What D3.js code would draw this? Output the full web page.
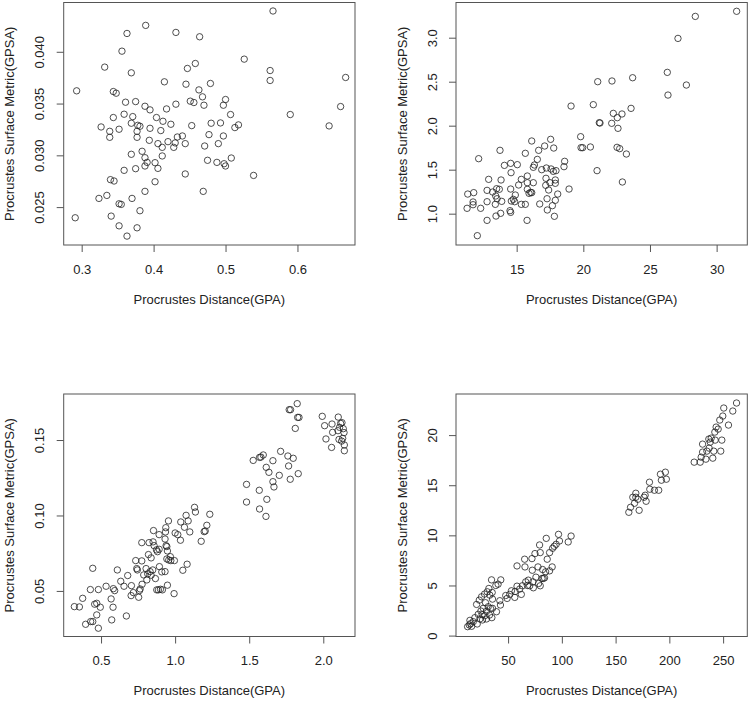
<!DOCTYPE html>
<html><head><meta charset="utf-8">
<script src="https://cdn.jsdelivr.net/npm/d3@7"></script>
<style>body{margin:0;background:#fff}svg{display:block}</style>
</head><body>
<svg id="chart" width="750" height="704"></svg>
<script>
// ---------- data ----------
const xTitle = "Procrustes Distance(GPA)";
const yTitle = "Procrustes Surface Metric(GPSA)";

// Panel 1 (top-left)
const p1x = [0.389,0.363,0.431,0.464,0.356,0.332,0.369,0.458,0.447,0.415,0.445,0.293,0.344,0.348,0.463,0.468,0.361,0.375,0.388,0.395,0.418,0.431,0.451,0.456,0.470,0.344,0.359,0.371,0.404,0.413,0.424,0.369,0.327,0.339,0.339,0.352,0.378,0.381,0.377,0.377,0.395,0.410,0.453,0.394,0.406,0.412,0.420,0.428,0.430,0.433,0.440,0.444,0.471,0.369,0.384,0.388,0.391,0.388,0.402,0.406,0.412,0.375,0.359,0.340,0.345,0.402,0.444,0.469,0.388,0.324,0.335,0.370,0.352,0.355,0.381,0.291,0.341,0.352,0.377,0.363,
  0.566,0.526,0.562,0.562,0.667,0.479,0.500,0.497,0.507,0.590,0.660,0.480,0.493,0.513,0.518,0.644,0.477,0.497,0.490,0.475,0.488,0.498,0.500,0.508,0.539];
const p1y = [0.04255,0.04177,0.04187,0.04145,0.04006,0.03852,0.03797,0.03887,0.03839,0.0371,0.03687,0.03623,0.03616,0.036,0.03632,0.03565,0.03513,0.03519,0.03474,0.03439,0.03448,0.03494,0.03523,0.0351,0.03484,0.03365,0.03397,0.03374,0.03365,0.03329,0.033,0.0331,0.03274,0.03232,0.03174,0.03252,0.0329,0.03281,0.03232,0.03174,0.03261,0.03239,0.03287,0.03145,0.03113,0.03077,0.03132,0.03077,0.0312,0.03177,0.03187,0.03113,0.0309,0.0301,0.03039,0.02977,0.02932,0.02897,0.02929,0.02874,0.02994,0.02871,0.02855,0.02765,0.02752,0.02745,0.0282,0.02652,0.02652,0.02584,0.02613,0.02584,0.02532,0.02526,0.02465,0.02397,0.02413,0.02319,0.023,0.0222,
  0.04394,0.03929,0.03819,0.03723,0.03752,0.03694,0.03539,0.03484,0.03394,0.03394,0.03471,0.0331,0.03313,0.03268,0.03294,0.03284,0.032,0.03187,0.03113,0.02952,0.02932,0.02919,0.02897,0.02974,0.02806];

// Panel 2 (top-right)
const p2x = [12.05,19.08,16.13,13.75,17.55,16.65,17.1,17.78,15.65,16.55,12.15,14.55,14.08,15.05,14.58,16.33,16.25,16.88,17.23,17.58,17.95,17.75,18.6,18.55,12.9,13.83,15.35,15.8,15.8,16.25,15.15,17.2,17.18,17.5,17.9,17.9,18.93,12.78,13.2,13.5,13.7,14.55,15.8,15.93,16.05,16.13,11.33,11.78,11.73,11.73,11.28,12.3,12.78,13.43,13.53,13.88,13.4,13.8,12.78,13.45,14.5,14.55,14.6,14.75,14.85,14.9,15.35,15.65,15.78,16.73,17.28,17.3,17.68,17.9,18.08,17.83,17.4,
  28.4,27.1,26.3,27.73,26.35,21.08,22.15,23.7,20.75,23.58,22.25,22.9,22.55,21.2,21.25,22.13,22.6,19.8,19.83,19.95,20.53,22.53,22.73,23.23,21.03,22.93,31.5];
const p2y = [0.75,2.223,1.826,1.72,1.845,1.72,1.769,1.746,1.686,1.617,1.625,1.572,1.549,1.557,1.466,1.553,1.527,1.5,1.519,1.508,1.489,1.481,1.595,1.534,1.39,1.383,1.39,1.428,1.352,1.352,1.326,1.402,1.322,1.352,1.383,1.345,1.28,1.265,1.246,1.284,1.277,1.28,1.277,1.231,1.242,1.239,1.223,1.239,1.133,1.102,1.061,1.061,1.136,1.201,1.17,1.14,1.106,1.004,0.924,0.973,1.034,1.015,1.144,1.163,1.136,1.212,1.106,1.106,0.924,1.11,1.17,1.042,1.091,1.152,1.223,0.97,1.269,
  3.242,2.992,2.606,2.462,2.348,2.5,2.508,2.545,2.239,2.197,2.14,2.133,2.091,2.034,2.03,2.027,1.97,1.875,1.75,1.75,1.758,1.754,1.739,1.678,1.489,1.36,3.30];

// Panel 3 (bottom-left)
const p3x = [0.32,0.354,0.376,0.396,0.43,0.444,0.482,0.471,0.457,0.471,0.495,0.444,0.428,0.482,0.534,0.568,0.581,0.572,0.583,0.592,0.61,0.633,0.655,0.68,0.671,0.705,0.703,0.718,0.734,0.741,0.745,0.754,0.759,0.764,0.775,0.775,0.777,0.788,0.804,0.809,0.815,0.82,0.831,0.838,0.838,0.849,0.824,0.851,0.854,0.858,0.867,0.874,0.881,0.892,0.892,0.894,0.876,0.887,0.901,0.914,0.91,0.932,0.935,0.937,0.932,0.939,0.944,0.948,0.955,0.944,0.957,0.968,0.971,0.948,0.995,0.993,1.0,1.018,1.036,1.038,1.052,1.063,1.074,1.088,1.081,1.099,1.131,1.137,1.176,1.196,
  1.234,1.214,1.203,1.482,1.482,1.527,1.57,1.579,1.595,1.568,1.57,1.613,1.619,1.615,1.633,1.66,1.66,1.667,1.703,1.712,1.761,1.766,1.777,1.797,1.831,1.77,1.779,1.824,1.827,1.836,1.811,1.993,2.009,2.018,2.056,2.059,2.063,2.101,2.099,2.106,2.117,2.126,2.135,2.14,2.124,2.142,2.142,2.11,2.131];
const p3y = [0.0396,0.0394,0.0451,0.0279,0.0297,0.0297,0.0253,0.0341,0.0412,0.0418,0.0392,0.065,0.0509,0.0509,0.0531,0.0447,0.0392,0.0308,0.0515,0.0502,0.0639,0.0564,0.0531,0.0602,0.0334,0.0535,0.0469,0.0489,0.0701,0.0648,0.0639,0.0458,0.0502,0.0513,0.082,0.0699,0.0544,0.0606,0.0648,0.0573,0.0613,0.0741,0.0628,0.0604,0.0719,0.0639,0.082,0.0825,0.09,0.08,0.0582,0.0772,0.076,0.0776,0.0873,0.0661,0.0507,0.0507,0.0511,0.0507,0.0626,0.0628,0.0891,0.0919,0.0844,0.08,0.0794,0.0765,0.0964,0.0712,0.0705,0.0727,0.0701,0.0538,0.0701,0.0482,0.0884,0.0873,0.0836,0.0957,0.0637,0.0922,0.1001,0.0964,0.0677,0.0891,0.1054,0.1023,0.0829,0.0893,
  0.1008,0.0935,0.0897,0.1206,0.1089,0.1365,0.1385,0.1387,0.1401,0.1167,0.1043,0.0994,0.1107,0.1319,0.1286,0.1363,0.1224,0.1189,0.1266,0.1425,0.1394,0.1328,0.124,0.1379,0.1277,0.1701,0.1701,0.1741,0.165,0.165,0.1577,0.1657,0.1595,0.1507,0.1451,0.1606,0.1551,0.1652,0.1562,0.1504,0.161,0.1615,0.1575,0.1549,0.1493,0.1467,0.1429,0.1584,0.1511];

// Panel 4 (bottom-right)
const p4x = [12.35,13.9,15.1,16.1,14.5,17.6,19.1,21.3,22.2,20.7,23.8,24.7,23.2,25.3,25.9,26.9,26.2,28.1,28.4,29.0,29.9,29.9,30.6,31.5,32.1,32.7,33.0,33.6,34.6,35.5,35.2,35.5,34.9,39.2,38.6,40.7,42.3,43.2,42.9,
  47.8,49.1,51.5,53.1,56.2,56.5,58.3,58.3,60.8,62.3,63.3,65.4,65.7,66.4,68.0,68.8,70.1,72.2,72.5,73.1,73.5,75.0,75.9,77.8,78.4,79.3,79.9,79.9,81.5,82.1,82.7,83.9,84.9,85.5,86.4,88.6,88.6,91.0,91.4,92.9,94.7,96.9,97.8,105.9,108.6,
  162.3,163.9,166,167.6,168.8,168.8,171.9,170.7,176.5,177.5,178.4,181.5,181.8,186.1,190.1,191.7,192.6,196.3,197.2,
  223.1,228.7,229.6,230.9,230.9,234.0,234.9,236.7,237.0,238.0,238.9,240.4,241.3,242.6,242.3,243.5,245.4,246.9,247.8,248.8,249.7,250.6,255,259,262.5];
const p4y = [0.89,1.06,1.19,0.93,1.52,1.39,1.79,1.16,2.12,3.11,1.66,2.45,3.54,3.87,2.09,2.72,1.56,4.14,1.99,3.28,2.42,1.66,4.37,2.88,4.70,2.05,4.04,2.72,5.56,3.64,4.30,2.72,1.79,2.38,5.0,5.13,3.48,5.56,3.05,
  4.0,3.71,4.11,4.47,3.81,4.40,6.95,4.93,4.64,4.11,4.97,7.62,6.85,5.36,5.0,5.53,4.97,7.68,6.52,5.36,4.77,8.18,5.83,6.85,5.20,9.04,8.28,4.97,5.70,6.59,5.70,5.76,6.36,9.70,7.62,8.28,6.46,6.85,8.71,8.91,9.11,10.1,9.44,9.34,9.93,
  12.3,12.8,13.8,13.2,14.2,13.8,12.5,13.6,13.8,14.0,13.4,15.3,14.6,14.5,14.5,16.1,15.5,16.3,15.6,
  17.3,17.3,17.8,19.1,18.3,17.6,18.4,19.6,18.7,19.3,19.7,17.7,18.4,19.5,20.3,20.8,20.6,21.5,18.4,19.5,21.9,22.7,21.0,22.4,23.2];

// axis limits and ticks
const p1xlim = [0.275, 0.68],  p1ylim = [0.02134, 0.04476];
const p2xlim = [10.45, 32.3],  p2ylim = [0.644, 3.40];
const p3xlim = [0.248, 2.214], p3ylim = [0.0198, 0.1805];
const p4xlim = [1.55, 272.5],  p4ylim = [-0.09, 24.1];
const p1xticks = [0.3,0.4,0.5,0.6],        p1xlabels = ["0.3","0.4","0.5","0.6"];
const p1yticks = [0.025,0.030,0.035,0.040],p1ylabels = ["0.025","0.030","0.035","0.040"];
const p2xticks = [15,20,25,30],            p2xlabels = ["15","20","25","30"];
const p2yticks = [1.0,1.5,2.0,2.5,3.0],    p2ylabels = ["1.0","1.5","2.0","2.5","3.0"];
const p3xticks = [0.5,1.0,1.5,2.0],        p3xlabels = ["0.5","1.0","1.5","2.0"];
const p3yticks = [0.05,0.10,0.15],         p3ylabels = ["0.05","0.10","0.15"];
const p4xticks = [50,100,150,200,250],     p4xlabels = ["50","100","150","200","250"];
const p4yticks = [0,5,10,15,20],           p4ylabels = ["0","5","10","15","20"];

// ---------- drawing ----------
const svg = d3.select("#chart");
const FONT = "'Liberation Sans', Arial, Helvetica, sans-serif";
const boxW = 291.3, boxH = 242.5;
const panels = [
  {x0:63.7, y0:2.5, xs:p1x, ys:p1y, xlim:p1xlim, ylim:p1ylim, xt:p1xticks, xl:p1xlabels, yt:p1yticks, yl:p1ylabels},
  {x0:456,  y0:2.5, xs:p2x, ys:p2y, xlim:p2xlim, ylim:p2ylim, xt:p2xticks, xl:p2xlabels, yt:p2yticks, yl:p2ylabels},
  {x0:63.7, y0:394, xs:p3x, ys:p3y, xlim:p3xlim, ylim:p3ylim, xt:p3xticks, xl:p3xlabels, yt:p3yticks, yl:p3ylabels},
  {x0:456,  y0:394, xs:p4x, ys:p4y, xlim:p4xlim, ylim:p4ylim, xt:p4xticks, xl:p4xlabels, yt:p4yticks, yl:p4ylabels}
];

panels.forEach(p => {
  const g = svg.append("g").attr("transform", `translate(${p.x0},${p.y0})`);
  const x = d3.scaleLinear().domain(p.xlim).range([0, boxW]);
  const y = d3.scaleLinear().domain(p.ylim).range([boxH, 0]);

  const xAxis = d3.axisBottom(x).tickValues(p.xt).tickFormat((d,i) => p.xl[i]).tickSize(7).tickPadding(4);
  const yAxis = d3.axisLeft(y).tickValues(p.yt).tickFormat((d,i) => p.yl[i]).tickSize(7).tickPadding(4);

  const gx = g.append("g").attr("transform", `translate(0,${boxH})`).call(xAxis);
  gx.select(".domain").remove();
  gx.selectAll("line").attr("stroke", "#555");
  gx.selectAll("text").attr("font-family", FONT).attr("font-size", 13).attr("fill", "#222")
    .attr("dy", null).attr("y", 24).attr("dominant-baseline", "central");

  const gy = g.append("g").call(yAxis);
  gy.select(".domain").remove();
  gy.selectAll("line").attr("stroke", "#555");
  gy.selectAll("text").attr("font-family", FONT).attr("font-size", 13).attr("fill", "#222")
    .attr("x", null).attr("dy", null).attr("text-anchor", "middle").attr("dominant-baseline", "central")
    .attr("transform", "translate(-24,0) rotate(-90)");

  // box
  g.append("rect").attr("x", 0).attr("y", 0).attr("width", boxW).attr("height", boxH)
    .attr("fill", "none").attr("stroke", "#555").attr("stroke-width", 1);

  // axis titles
  g.append("text").attr("x", boxW/2).attr("y", boxH + 54).attr("text-anchor", "middle")
    .attr("dominant-baseline", "central").attr("font-family", FONT).attr("font-size", 13).attr("fill", "#222")
    .text(xTitle);
  g.append("text").attr("transform", `translate(-54,${boxH/2}) rotate(-90)`).attr("text-anchor", "middle")
    .attr("dominant-baseline", "central").attr("font-family", FONT).attr("font-size", 13).attr("fill", "#222")
    .text(yTitle);

  // points
  g.append("g").selectAll("circle").data(p.xs.map((v,i) => [v, p.ys[i]])).join("circle")
    .attr("cx", d => x(d[0])).attr("cy", d => y(d[1])).attr("r", 3.2)
    .attr("fill", "none").attr("stroke", "#222").attr("stroke-width", 0.8);
});
</script>
</body></html>
